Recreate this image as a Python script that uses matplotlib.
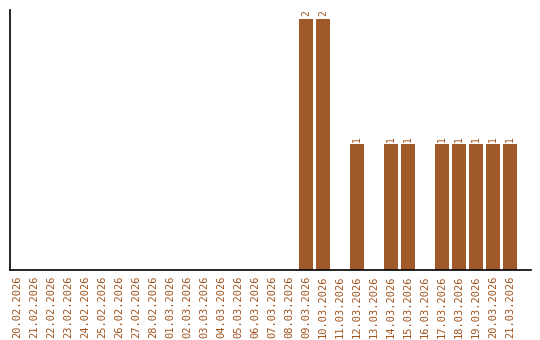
import matplotlib
matplotlib.use("Agg")
import matplotlib.pyplot as plt
import numpy as np

dates = ["20.02.2026", "21.02.2026", "22.02.2026", "23.02.2026", "24.02.2026",
         "25.02.2026", "26.02.2026", "27.02.2026", "28.02.2026", "01.03.2026",
         "02.03.2026", "03.03.2026", "04.03.2026", "05.03.2026", "06.03.2026",
         "07.03.2026", "08.03.2026", "09.03.2026", "10.03.2026", "11.03.2026",
         "12.03.2026", "13.03.2026", "14.03.2026", "15.03.2026", "16.03.2026",
         "17.03.2026", "18.03.2026", "19.03.2026", "20.03.2026", "21.03.2026"]
counts = [0, 0, 0, 0, 0, 0, 0, 0, 0, 0,
          0, 0, 0, 0, 0, 0, 0, 2, 2, 0,
          1, 0, 1, 1, 0, 1, 1, 1, 1, 1]

bar_color = "#A0592A"
text_color = "#A0521D"

fig = plt.figure(figsize=(5.4, 3.4), dpi=100)
ax = fig.add_axes([10/540, 70/340, 521/540, 260/340])
x = np.arange(len(dates))
ax.bar(x, counts, width=0.82, color=bar_color)
ax.set_xlim(-0.41, 30.24)
ax.set_ylim(0, 2.07)
for xi, v in zip(x, counts):
    if v > 0:
        ax.text(xi, v + 0.02, str(v), rotation=90, ha="center", va="bottom",
                fontsize=7, color=text_color, family="DejaVu Sans Mono")
ax.set_xticks(x)
ax.set_xticklabels(dates, rotation=90, fontsize=7.5, color=text_color,
                   family="DejaVu Sans Mono")
ax.tick_params(axis="x", length=0, pad=4)
ax.set_yticks([])
ax.spines["top"].set_visible(False)
ax.spines["right"].set_visible(False)
ax.spines["left"].set_linewidth(1.2)
ax.spines["bottom"].set_linewidth(1.2)
fig.savefig("out.png", dpi=100)
